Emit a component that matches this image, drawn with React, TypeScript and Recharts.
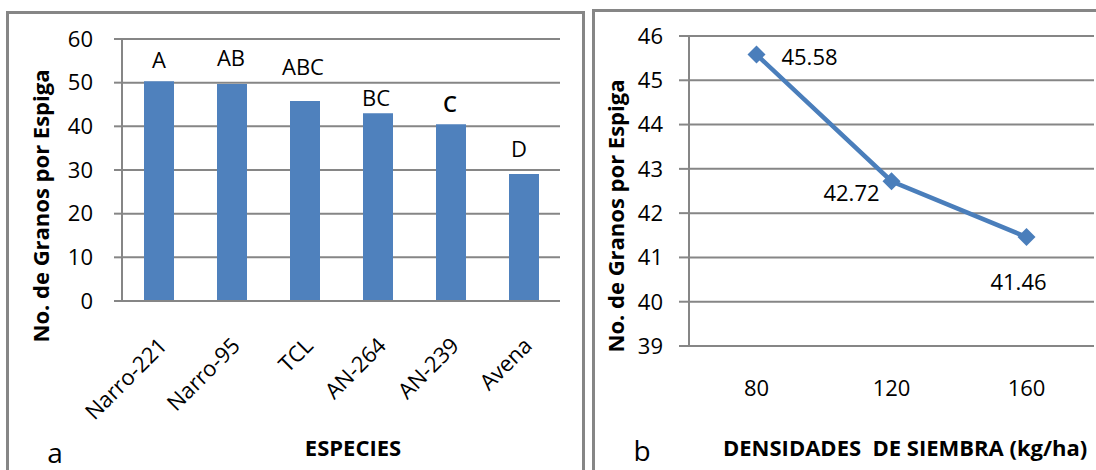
import { Bar, BarChart, CartesianGrid, LabelList, Line, LineChart, XAxis, YAxis } from 'recharts';

// panel a: grains per spike by species
const species = ['Narro-221', 'Narro-95', 'TCL', 'AN-264', 'AN-239', 'Avena'];
const grainsPerSpike = [50.3, 49.7, 45.8, 43.0, 40.5, 29.1];
const tukeyGroups = ['A', 'AB', 'ABC', 'BC', 'C', 'D'];
const speciesTicks = [0, 10, 20, 30, 40, 50, 60];

// panel b: grains per spike by sowing density
const densities = ['80', '120', '160'];
const grainsByDensity = [45.58, 42.72, 41.46];
const densityTicks = [39, 40, 41, 42, 43, 44, 45, 46];

const speciesData = species.map((name, i) => ({ name, grains: grainsPerSpike[i], group: tukeyGroups[i] }));
const densityData = densities.map((density, i) => ({ density, grains: grainsByDensity[i] }));

const FONT = "'Open Sans', 'DejaVu Sans', sans-serif";
const GRID = '#868686';
const BAR_BLUE = '#4F81BD';
const LINE_BLUE = '#4A7EBB';

// the letters and value labels were nudged by hand in the original
const groupLift = [22, 27, 35, 16, 21, 26];
const groupShift = [0, -1, -2, -2, -1, -5];
const valueNudge = [
  [53, 1],
  [-40, 11],
  [-8, 44],
];

function boxOf(props: any) {
  const vb = props.viewBox ?? {};
  const x = props.x ?? vb.x ?? 0;
  const y = props.y ?? vb.y ?? 0;
  const width = props.width ?? vb.width ?? 0;
  return { x, y, width };
}

function GroupLabel(props: any) {
  const { x, y, width } = boxOf(props);
  const i = props.index ?? 0;
  return (
    <text
      x={x + width / 2 + groupShift[i]}
      y={y - groupLift[i]}
      textAnchor="middle"
      dominantBaseline="central"
      fontFamily={FONT}
      fontSize={22}
      fontWeight={props.value === 'C' ? 600 : 400}
      fill="#000"
    >
      {props.value}
    </text>
  );
}

function ValueLabel(props: any) {
  const { x, y, width } = boxOf(props);
  const i = props.index ?? 0;
  return (
    <text
      x={x + width / 2 + valueNudge[i][0]}
      y={y + valueNudge[i][1]}
      textAnchor="middle"
      dominantBaseline="central"
      fontFamily={FONT}
      fontSize={22}
      fill="#000"
    >
      {Number(props.value).toFixed(2)}
    </text>
  );
}

function SpeciesTick(props: any) {
  const { x, y, payload } = props;
  const ax = x + 10;
  const ay = y + 46;
  return (
    <text
      x={ax}
      y={ay}
      transform={`rotate(-45, ${ax}, ${ay})`}
      textAnchor="end"
      fontFamily={FONT}
      fontSize={22}
      fill="#000"
    >
      {payload.value}
    </text>
  );
}

function Diamond(props: any) {
  const { cx, cy, index } = props;
  if (cx == null || cy == null) return <g key={index} />;
  const r = 9;
  return <path key={index} d={`M${cx},${cy - r}L${cx + r},${cy}L${cx},${cy + r}L${cx - r},${cy}Z`} fill={LINE_BLUE} />;
}

const tickText = { fill: '#000', fontSize: 22, fontFamily: FONT };

export default function App() {
  return (
    <div style={{ position: 'fixed', left: 0, top: 0, width: 1096, height: 470, overflow: 'hidden', background: '#fff' }}>
      <div
        style={{
          position: 'absolute',
          left: 6,
          top: 11,
          width: 579,
          height: 480,
          border: `3px solid ${GRID}`,
          boxSizing: 'border-box',
        }}
      />
      <div
        style={{
          position: 'absolute',
          left: 592,
          top: 9,
          width: 520,
          height: 480,
          border: `3px solid ${GRID}`,
          boxSizing: 'border-box',
        }}
      />

      <div style={{ position: 'absolute', left: 0, top: 0 }}>
        <BarChart width={584} height={470} data={speciesData} margin={{ top: 39, right: 24, bottom: 109, left: 22 }} barSize={30}>
          <CartesianGrid vertical={false} stroke={GRID} strokeWidth={2} />
          <XAxis
            dataKey="name"
            height={60}
            interval={0}
            axisLine={{ stroke: GRID, strokeWidth: 2 }}
            tickLine={false}
            tickSize={0}
            tickMargin={0}
            tick={SpeciesTick}
          />
          <YAxis
            width={100}
            domain={[0, 60]}
            ticks={speciesTicks}
            interval={0}
            axisLine={{ stroke: GRID, strokeWidth: 2 }}
            tickLine={{ stroke: GRID, strokeWidth: 2 }}
            tickSize={8}
            tickMargin={21}
            tick={tickText}
          />
          <Bar dataKey="grains" fill={BAR_BLUE} isAnimationActive={false}>
            <LabelList dataKey="group" content={GroupLabel} />
          </Bar>
        </BarChart>
      </div>

      <div style={{ position: 'absolute', left: 593, top: 0 }}>
        <LineChart width={503} height={470} data={densityData} margin={{ top: 36, right: 2, bottom: 74, left: 16 }}>
          <CartesianGrid vertical={false} stroke={GRID} strokeWidth={2} />
          <XAxis
            dataKey="density"
            height={50}
            interval={0}
            padding={{ left: 67.5, right: 67.5 }}
            axisLine={false}
            tickLine={false}
            tickSize={0}
            tickMargin={34}
            tick={tickText}
          />
          <YAxis
            width={80}
            domain={[39, 46]}
            ticks={densityTicks}
            interval={0}
            axisLine={{ stroke: GRID, strokeWidth: 2 }}
            tickLine={{ stroke: GRID, strokeWidth: 2 }}
            tickSize={10}
            tickMargin={16}
            tick={tickText}
          />
          <Line
            type="linear"
            dataKey="grains"
            stroke={LINE_BLUE}
            strokeWidth={4.5}
            dot={Diamond}
            activeDot={false}
            isAnimationActive={false}
          >
            <LabelList dataKey="grains" content={ValueLabel} />
          </Line>
        </LineChart>
      </div>

      <svg width={1096} height={470} style={{ position: 'absolute', left: 0, top: 0, pointerEvents: 'none' }}>
        <g fontFamily={FONT} fill="#000">
          <text x={40} y={206} transform="rotate(-90, 40, 206)" textAnchor="middle" dominantBaseline="central" fontSize={22} fontWeight={700}>
            No. de Granos por Espiga
          </text>
          <text x={353} y={447} textAnchor="middle" dominantBaseline="central" fontSize={22} fontWeight={700}>
            ESPECIES
          </text>
          <text x={55} y={452} textAnchor="middle" dominantBaseline="central" fontSize={28}>
            a
          </text>
          <text x={615} y={216} transform="rotate(-90, 615, 216)" textAnchor="middle" dominantBaseline="central" fontSize={22} fontWeight={700}>
            No. de Granos por Espiga
          </text>
          <text x={723} y={447} dominantBaseline="central" fontSize={22} fontWeight={700} style={{ whiteSpace: 'pre' }}>
            {'DENSIDADES  DE SIEMBRA (kg/ha)'}
          </text>
          <text x={642} y={450} textAnchor="middle" dominantBaseline="central" fontSize={28}>
            b
          </text>
        </g>
      </svg>
    </div>
  );
}
